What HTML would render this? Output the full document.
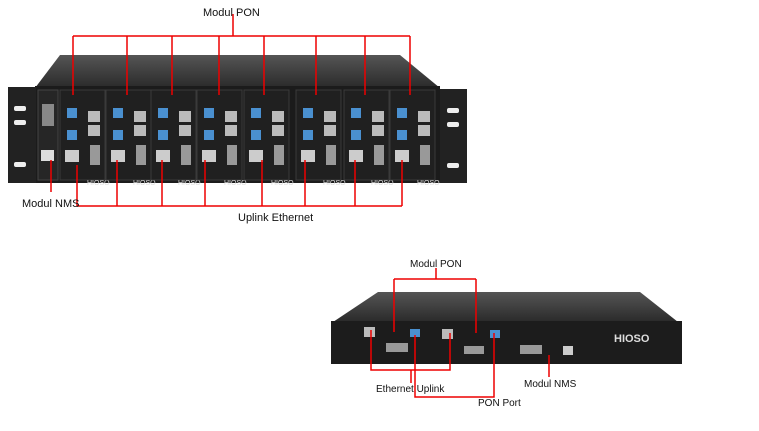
<!DOCTYPE html><html><head><style>body{margin:0;background:#fff}svg{display:block}text{font-family:"Liberation Sans",sans-serif}</style></head><body>
<svg width="759" height="431" viewBox="0 0 759 431">
<defs><linearGradient id="tp" x1="0" y1="0" x2="0" y2="1"><stop offset="0" stop-color="#555"/><stop offset="1" stop-color="#2a2a2a"/></linearGradient></defs>
<!-- chassis 1 -->
<polygon points="60,55 400,55 440,88 35,88" fill="url(#tp)"/>
<rect x="35" y="86" width="405" height="97" fill="#1b1b1b"/>
<rect x="8" y="87" width="28" height="96" fill="#222"/>
<rect x="440" y="89" width="27" height="94" fill="#222"/>
<g fill="#eee"><rect x="14" y="106" width="12" height="5" rx="2"/><rect x="14" y="120" width="12" height="5" rx="2"/><rect x="14" y="162" width="12" height="5" rx="2"/><rect x="447" y="108" width="12" height="5" rx="2"/><rect x="447" y="122" width="12" height="5" rx="2"/><rect x="447" y="163" width="12" height="5" rx="2"/></g>
<rect x="38" y="90" width="20" height="90" fill="#262626" stroke="#444"/>
<rect x="42" y="104" width="12" height="22" fill="#888"/>
<rect x="41" y="150" width="13" height="11" fill="#ddd"/>
<g id="m">
<rect x="60" y="90" width="45" height="90" fill="#202020" stroke="#3a3a3a"/>
<rect x="67" y="108" width="10" height="10" fill="#4a90d0"/><rect x="67" y="130" width="10" height="10" fill="#4a90d0"/>
<rect x="88" y="111" width="12" height="11" fill="#bbb"/><rect x="88" y="125" width="12" height="11" fill="#bbb"/>
<rect x="65" y="150" width="14" height="12" fill="#ccc"/><rect x="90" y="145" width="10" height="20" fill="#999"/>
<text x="87" y="185" font-size="7" fill="#ddd">HIOSO</text>
</g>
<use href="#m" x="46"/><use href="#m" x="91"/><use href="#m" x="137"/><use href="#m" x="184"/><use href="#m" x="236"/><use href="#m" x="284"/><use href="#m" x="330"/>
<g stroke="#e00" stroke-width="1.5" fill="none">
<path d="M233 14V36M73 36H410M73 36V95M127 36V95M172 36V95M219 36V95M264 36V95M316 36V95M365 36V95M410 36V95"/>
<path d="M51 160V192M77 206H402M77 165V206M117 160V206M162 160V206M205 160V206M262 160V206M305 160V206M355 160V206M402 160V206"/>
</g>
<text x="203" y="16" font-size="11" fill="#111">Modul PON</text>
<text x="22" y="207" font-size="11" fill="#111">Modul NMS</text>
<text x="238" y="221" font-size="11" fill="#111">Uplink Ethernet</text>
<!-- device 2 -->
<polygon points="378,292 640,292 678,322 333,322" fill="url(#tp)"/>
<rect x="331" y="321" width="351" height="43" fill="#1c1c1c"/>
<rect x="364" y="327" width="11" height="10" fill="#bbb"/><rect x="442" y="329" width="11" height="10" fill="#bbb"/>
<rect x="410" y="329" width="10" height="8" fill="#4a90d0"/><rect x="490" y="330" width="10" height="8" fill="#4a90d0"/>
<rect x="386" y="343" width="22" height="9" fill="#999"/><rect x="464" y="346" width="20" height="8" fill="#999"/>
<rect x="520" y="345" width="22" height="9" fill="#999"/><rect x="563" y="346" width="10" height="9" fill="#ccc"/>
<text x="614" y="342" font-size="11" font-weight="bold" fill="#ddd">HIOSO</text>
<g stroke="#e00" stroke-width="1.5" fill="none">
<path d="M436 268V279M394 279H476M394 279V332M476 279V333"/>
<path d="M371 330V370H450V333M411 370V383"/>
<path d="M415 335V397H494V333"/>
<path d="M549 355V377"/>
</g>
<text x="410" y="267" font-size="10" fill="#111">Modul PON</text>
<text x="376" y="392" font-size="10" fill="#111">Ethernet Uplink</text>
<text x="478" y="406" font-size="10" fill="#111">PON Port</text>
<text x="524" y="387" font-size="10" fill="#111">Modul NMS</text>
</svg></body></html>
